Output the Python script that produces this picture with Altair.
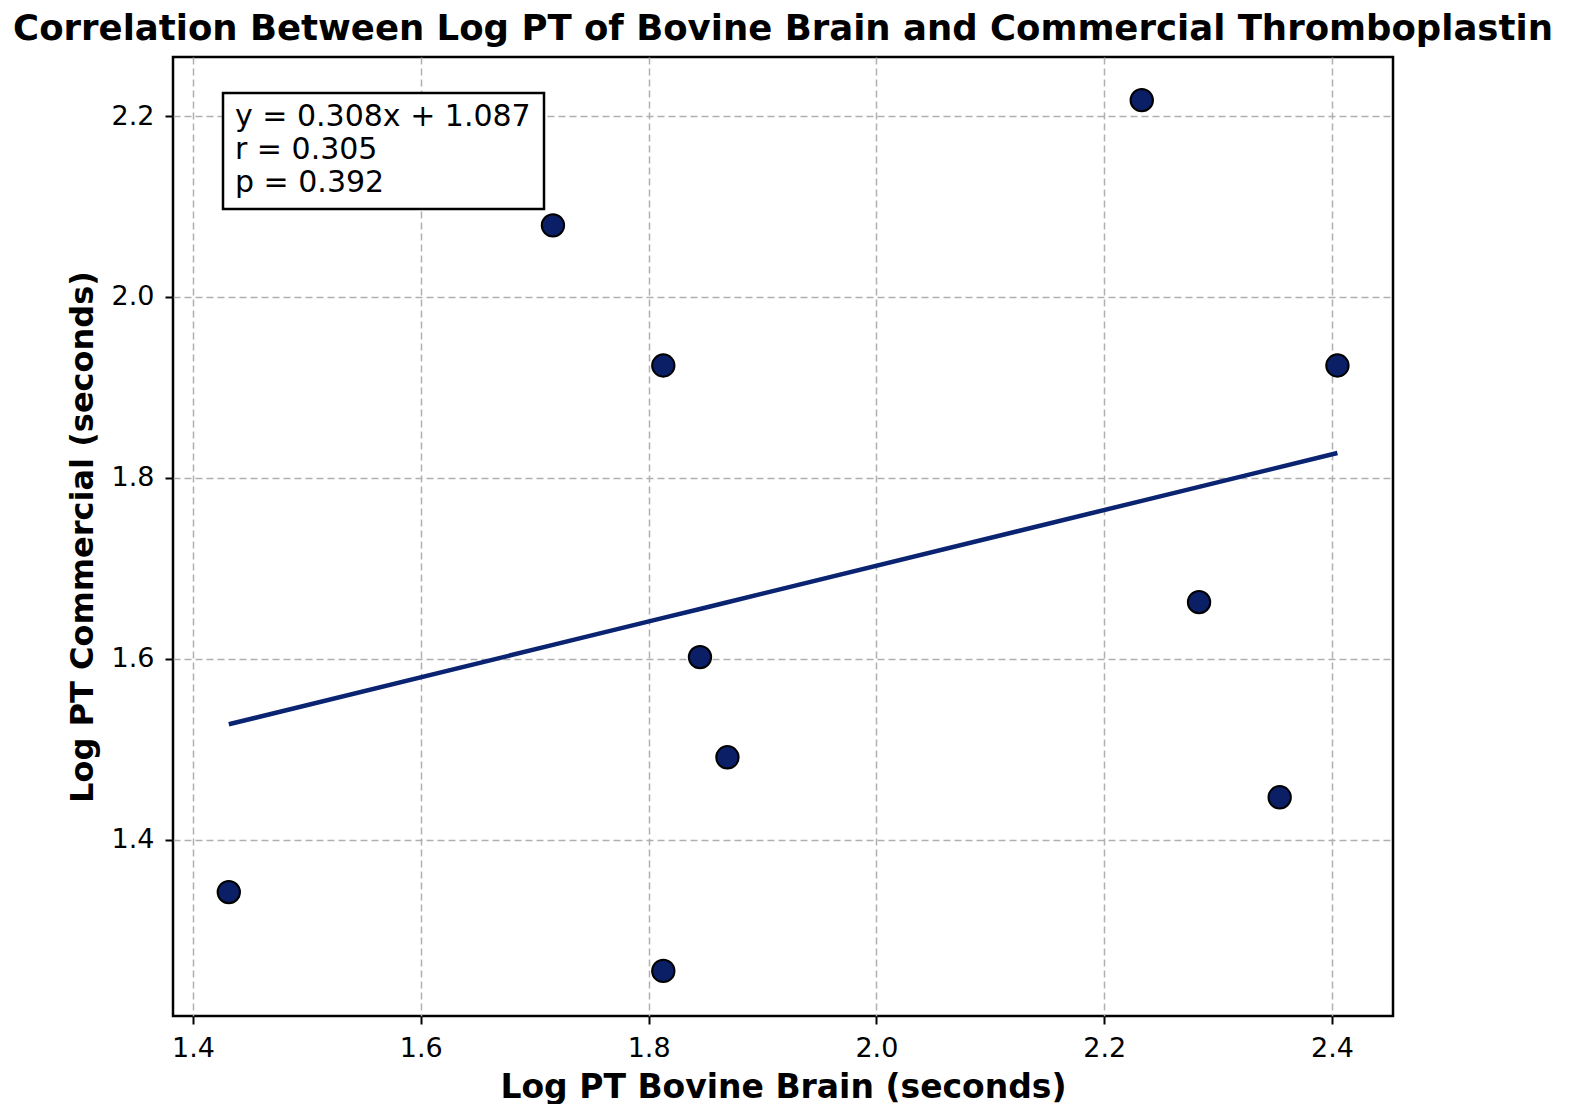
import altair as alt
import pandas as pd

# Data
log_pt_bovine = [1.4314, 1.7160, 1.8129, 1.8451, 1.8692, 1.8129, 2.2330, 2.2833, 2.3541, 2.4048]
log_pt_commercial = [1.3424, 2.0792, 1.9243, 1.6021, 1.4914, 1.2553, 2.2175, 1.6628, 1.4472, 1.9243]
slope = 0.308
intercept = 1.087
r_value = 0.305
p_value = 0.392
x_ticks = [1.4, 1.6, 1.8, 2.0, 2.2, 2.4]
y_ticks = [1.4, 1.6, 1.8, 2.0, 2.2]

df = pd.DataFrame({"x": log_pt_bovine, "y": log_pt_commercial})
stats_lines = [
    f"y = {slope:.3f}x + {intercept:.3f}",
    f"r = {r_value:.3f}",
    f"p = {p_value:.3f}",
]
one_row = pd.DataFrame({"k": [0]})

FONT = "DejaVu Sans"
NAVY = "#0b1f66"
LINE_NAVY = "#0a2472"

x_scale = alt.Scale(domain=[1.3824, 2.4536], nice=False, zero=False)
y_scale = alt.Scale(domain=[1.2055, 2.2652], nice=False, zero=False)

x_enc = alt.X(
    "x:Q",
    scale=x_scale,
    title="Log PT Bovine Brain (seconds)",
    axis=alt.Axis(values=x_ticks, format=".1f"),
)
y_enc = alt.Y(
    "y:Q",
    scale=y_scale,
    title="Log PT Commercial (seconds)",
    axis=alt.Axis(values=y_ticks, format=".1f"),
)

line = (
    alt.Chart(df)
    .transform_calculate(fit=f"{slope} * datum.x + {intercept}")
    .mark_line(color=LINE_NAVY, strokeWidth=4.5)
    .encode(x=alt.X("x:Q", scale=x_scale), y=alt.Y("fit:Q", scale=y_scale), order="x:Q")
)

points = (
    alt.Chart(df)
    .mark_point(filled=True, shape="circle", size=500, color=NAVY, stroke="black", strokeWidth=2, opacity=1)
    .encode(x=x_enc, y=y_enc)
)

box = (
    alt.Chart(one_row)
    .mark_rect(fill="white", stroke="black", strokeWidth=2.5)
    .encode(x=alt.value(50), x2=alt.value(371), y=alt.value(36), y2=alt.value(152))
)

text = (
    alt.Chart(one_row)
    .mark_text(align="left", baseline="alphabetic", font=FONT, fontSize=30, lineHeight=33, color="black")
    .encode(x=alt.value(62), y=alt.value(69), text=alt.value(stats_lines))
)

chart = (
    alt.layer(line, points, box, text)
    .properties(
        width=1220,
        height=959,
        autosize=alt.AutoSizeParams(type="none"),
        padding={"left": 165, "top": 49, "right": 168, "bottom": 88},
        title=alt.TitleParams(
            "Correlation Between Log PT of Bovine Brain and Commercial Thromboplastin",
            font=FONT,
            fontSize=35.5,
            fontWeight="bold",
            anchor="middle",
            frame="group",
            baseline="alphabetic",
            offset=19,
            dy=37,
            color="black",
        ),
    )
    .configure_view(stroke="black", strokeWidth=2.5)
    .configure_axis(
        labelFont=FONT,
        labelFontSize=27,
        labelColor="black",
        titleFont=FONT,
        titleFontSize=32,
        titleFontWeight="bold",
        titleColor="black",
        grid=True,
        gridColor="#b0b0b0",
        gridDash=[7, 4],
        gridWidth=1.5,
        domain=False,
        tickColor="black",
        tickWidth=2,
        tickSize=8,
    )
    .configure_axisX(labelPadding=11, titlePadding=10, titleFontSize=33)
    .configure_axisY(labelPadding=11, titlePadding=12)
)

chart.save("out.html", embed_options={"renderer": "svg", "actions": False})
